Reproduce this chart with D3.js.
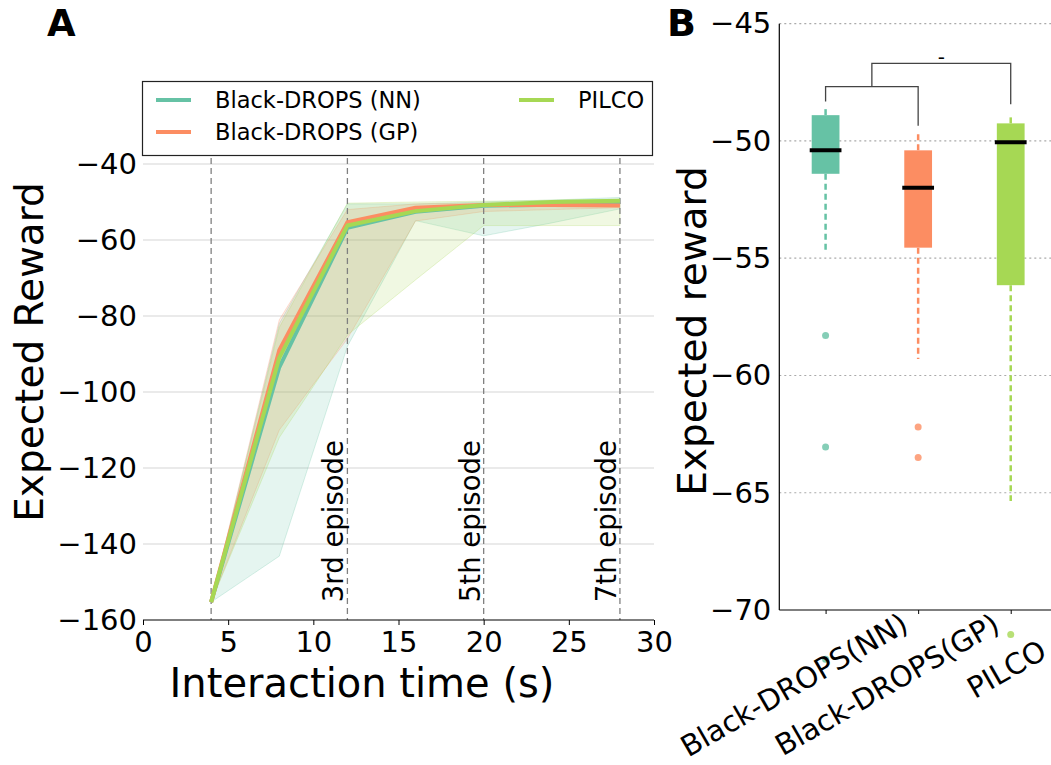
<!DOCTYPE html>
<html><head><meta charset="utf-8">
<script src="https://cdn.jsdelivr.net/npm/d3@7"></script>
<style>body{margin:0;background:#fff} svg{display:block} text{font-family:"DejaVu Sans",sans-serif;fill:#000}</style>
</head><body><svg id="c" width="1051" height="765"></svg>
<script>
// ---------- Panel A data ----------
const times = [4, 8, 12, 16, 20, 24, 28];
const nnMean  = [-155.3, -93.5, -56.8, -52.6, -51.0, -50.7, -50.5];
const nnLow   = [-155.3, -143.2, -88.0, -54.9, -58.9, -55.5, -51.8];
const nnHigh  = [-155.3, -82.0, -50.5, -50.5, -50.0, -49.5, -48.8];
const gpMean  = [-155.3, -89.0, -55.3, -51.5, -50.8, -50.8, -50.9];
const gpLow   = [-155.3, -110.0, -86.0, -55.0, -52.5, -52.0, -51.5];
const gpHigh  = [-155.3, -81.0, -52.0, -50.5, -50.3, -50.3, -50.2];
const piMean  = [-155.3, -91.0, -56.2, -52.4, -50.8, -50.0, -49.7];
const piLow   = [-155.3, -112.0, -85.0, -70.5, -56.2, -56.2, -56.2];
const piHigh  = [-155.3, -83.0, -50.3, -50.0, -49.8, -49.5, -49.3];
const seriesNames = ["Black-DROPS (NN)", "Black-DROPS (GP)", "PILCO"];
const seriesColors = ["#66c2a5", "#fc8d62", "#a6d854"];
const episodeTimes = [4, 12, 20, 28];
const episodeLabels = ["", "3rd episode", "5th episode", "7th episode"];
const xTicksA = [0, 5, 10, 15, 20, 25, 30];
const yTicksA = [-160, -140, -120, -100, -80, -60, -40];

// ---------- Panel B data ----------
const boxCategories = ["Black-DROPS(NN)", "Black-DROPS(GP)", "PILCO"];
const boxWhiskerLow  = [-54.7, -59.3, -65.35];
const boxQ1          = [-51.4, -54.55, -56.15];
const boxMedian      = [-50.4, -52.0, -50.05];
const boxQ3          = [-48.9, -50.4, -49.25];
const boxWhiskerHigh = [-48.6, -49.7, -48.95];
const boxOutliers    = [[-58.3, -63.05, -72.1], [-62.2, -63.5], [-71.05]];
const yTicksB = [-70, -65, -60, -55, -50, -45];
// significance brackets
const bracketLeft   = [1, 1.5];
const bracketRight  = [2, 3];
const bracketY      = [-47.68, -46.69];
const bracketLeftEnd  = [-48.32, -47.68];
const bracketRightEnd = [-49.35, -48.43];
const bracketLabels = ["", "-"];

const svg = d3.select("#c");
const minus = s => String(s).replace("-", "\u2212");

// ================= Panel A =================
const xA = d3.scaleLinear().domain([0, 30]).range([143, 654]);
const yA = d3.scaleLinear().domain([-160, -40]).range([620, 164]);
const gA = svg.append("g");

gA.selectAll(".hg").data(yTicksA.filter(v => v > -160)).join("line")
  .attr("x1", xA(0)).attr("x2", xA(30))
  .attr("y1", d => yA(d)).attr("y2", d => yA(d))
  .attr("stroke", "#e3e3e3").attr("stroke-width", 1.5);

const series = [
  {mean: nnMean, low: nnLow, high: nnHigh},
  {mean: gpMean, low: gpLow, high: gpHigh},
  {mean: piMean, low: piLow, high: piHigh}
];
const idx = times.map((t, i) => i);
series.forEach((s, k) => {
  gA.append("path")
    .attr("d", d3.area().x(i => xA(times[i])).y0(i => yA(s.low[i])).y1(i => yA(s.high[i]))(idx))
    .attr("fill", seriesColors[k]).attr("fill-opacity", 0.17)
    .attr("stroke", seriesColors[k]).attr("stroke-opacity", 0.25).attr("stroke-width", 1);
});

gA.selectAll(".ep").data(episodeTimes).join("line")
  .attr("x1", d => xA(d)).attr("x2", d => xA(d))
  .attr("y1", yA(-20)).attr("y2", yA(-160))
  .attr("stroke", "#808080").attr("stroke-width", 1.3).attr("stroke-dasharray", "6,4");

series.forEach((s, k) => {
  gA.append("path")
    .attr("d", d3.line().x(i => xA(times[i])).y(i => yA(s.mean[i]))(idx))
    .attr("fill", "none").attr("stroke", seriesColors[k]).attr("stroke-width", 4)
    .attr("stroke-linejoin", "round");
});

episodeTimes.forEach((t, i) => {
  if (!episodeLabels[i]) return;
  const x = xA(t) - 4, y = yA(-155.3);
  gA.append("text").attr("transform", `translate(${x},${y}) rotate(-90)`)
    .attr("font-size", 27.5).text(episodeLabels[i]);
});

const axA = gA.append("g").attr("transform", `translate(0,${yA(-160)})`)
  .call(d3.axisBottom(xA).tickValues(xTicksA).tickSize(5).tickPadding(6).tickFormat(d3.format("d")));
axA.select(".domain").attr("stroke", "#000").attr("stroke-width", 1.2).attr("d", `M${xA(0)},0H${xA(30)}`);
axA.selectAll(".tick line").attr("stroke", "#000").attr("stroke-width", 1);
axA.selectAll(".tick text").attr("font-size", 29).attr("font-family", "DejaVu Sans").attr("fill", "#000");

const ayA = gA.append("g").attr("transform", `translate(${xA(0)},0)`)
  .call(d3.axisLeft(yA).tickValues(yTicksA).tickSize(0).tickPadding(6).tickFormat(d => minus(d)));
ayA.select(".domain").remove();
ayA.selectAll(".tick text").attr("font-size", 29).attr("font-family", "DejaVu Sans").attr("fill", "#000");

gA.append("text").attr("x", 362).attr("y", 697).attr("text-anchor", "middle")
  .attr("font-size", 40).text("Interaction time (s)");
gA.append("text").attr("transform", `translate(43,352) rotate(-90)`).attr("text-anchor", "middle")
  .attr("font-size", 39).text("Expected Reward");

const lg = gA.append("g");
lg.append("rect").attr("x", 142.5).attr("y", 81.5).attr("width", 510).attr("height", 74)
  .attr("fill", "#fff").attr("stroke", "#222").attr("stroke-width", 1.2);
const legPos = [[156, 100], [156, 132], [519, 100]];
seriesNames.forEach((n, k) => {
  const [lx, ly] = legPos[k];
  lg.append("line").attr("x1", lx).attr("x2", lx + 35).attr("y1", ly).attr("y2", ly)
    .attr("stroke", seriesColors[k]).attr("stroke-width", 4);
  lg.append("text").attr("x", lx + 59).attr("y", ly).attr("dy", "0.36em")
    .attr("font-size", 22.5).text(n);
});

svg.append("text").attr("x", 47).attr("y", 36).attr("font-size", 37).attr("font-weight", "bold").text("A");

// ================= Panel B =================
const xB = d3.scaleLinear().domain([0.5, 3.5]).range([779.3, 1057]);
const yB = d3.scaleLinear().domain([-70, -45]).range([610, 23.7]);
const gB = svg.append("g");
const boxW = 0.3;

gB.selectAll(".bg").data(yTicksB.filter(v => v > -70)).join("line")
  .attr("x1", xB(0.5)).attr("x2", xB(3.5))
  .attr("y1", d => yB(d)).attr("y2", d => yB(d))
  .attr("stroke", "#aaa").attr("stroke-width", 1.2).attr("stroke-dasharray", "2,3");

boxCategories.forEach((c, i) => {
  const cx = xB(i + 1), col = seriesColors[i];
  gB.append("line").attr("x1", cx).attr("x2", cx).attr("y1", yB(boxQ1[i])).attr("y2", yB(boxWhiskerLow[i]))
    .attr("stroke", col).attr("stroke-width", 2.5).attr("stroke-dasharray", "6,4");
  gB.append("line").attr("x1", cx).attr("x2", cx).attr("y1", yB(boxQ3[i])).attr("y2", yB(boxWhiskerHigh[i]))
    .attr("stroke", col).attr("stroke-width", 2.5).attr("stroke-dasharray", "6,4");
  gB.append("rect").attr("x", xB(i + 1 - boxW / 2)).attr("width", xB(i + 1 + boxW / 2) - xB(i + 1 - boxW / 2))
    .attr("y", yB(boxQ3[i])).attr("height", yB(boxQ1[i]) - yB(boxQ3[i])).attr("fill", col);
  gB.append("line").attr("x1", xB(i + 1 - boxW / 2) - 2).attr("x2", xB(i + 1 + boxW / 2) + 2)
    .attr("y1", yB(boxMedian[i])).attr("y2", yB(boxMedian[i]))
    .attr("stroke", "#000").attr("stroke-width", 4);
  gB.selectAll(null).data(boxOutliers[i]).join("circle")
    .attr("cx", cx).attr("cy", d => yB(d)).attr("r", 3.5).attr("fill", col).attr("fill-opacity", 0.8);
});

bracketLeft.forEach((l, i) => {
  const x1 = xB(l), x2 = xB(bracketRight[i]), y = yB(bracketY[i]);
  gB.append("path")
    .attr("d", `M${x1},${yB(bracketLeftEnd[i])}V${y}H${x2}V${yB(bracketRightEnd[i])}`)
    .attr("fill", "none").attr("stroke", "#444").attr("stroke-width", 1.3);
  if (bracketLabels[i]) gB.append("text").attr("x", (x1 + x2) / 2).attr("y", y + 1)
    .attr("text-anchor", "middle").attr("font-size", 20).text(bracketLabels[i]);
});

gB.append("line").attr("x1", xB(0.5)).attr("x2", xB(0.5)).attr("y1", yB(-45)).attr("y2", yB(-70))
  .attr("stroke", "#000").attr("stroke-width", 1.2);
const axB = gB.append("g").attr("transform", `translate(0,${yB(-70)})`)
  .call(d3.axisBottom(xB).tickValues([1, 2, 3]).tickSize(4).tickFormat(""));
axB.select(".domain").attr("stroke", "#000").attr("stroke-width", 1.2).attr("d", `M${xB(0.5)},0H${xB(3.5)}`);
axB.selectAll(".tick line").attr("stroke", "#000");

// rotated category labels, anchored at ~68% of their length
boxCategories.forEach((c, i) => {
  const t = gB.append("text").attr("transform", `translate(${xB(i + 1) + 14.5},${yB(-70) + 60}) rotate(-30)`)
    .attr("text-anchor", "start").attr("font-size", 29).text(c);
  const L = t.node().getComputedTextLength();
  t.attr("x", -0.685 * L);
});

const ayB = gB.append("g").attr("transform", `translate(${xB(0.5)},0)`)
  .call(d3.axisLeft(yB).tickValues(yTicksB).tickSize(0).tickPadding(8).tickFormat(d => minus(d)));
ayB.select(".domain").remove();
ayB.selectAll(".tick text").attr("font-size", 29).attr("font-family", "DejaVu Sans").attr("fill", "#000");

gB.append("text").attr("transform", `translate(706,331) rotate(-90)`).attr("text-anchor", "middle")
  .attr("font-size", 39).text("Expected reward");

svg.append("text").attr("x", 667).attr("y", 36).attr("font-size", 38).attr("font-weight", "bold").text("B");
</script></body></html>
